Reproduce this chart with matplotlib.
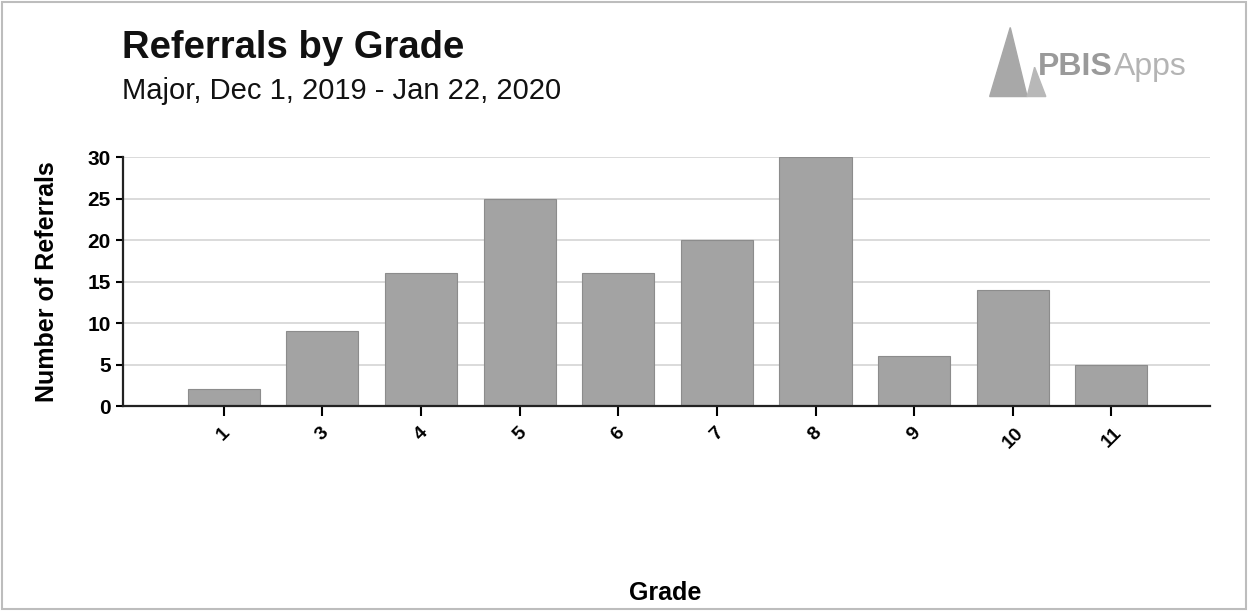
import matplotlib.pyplot as plt
from matplotlib.patches import Polygon, Rectangle

# Data
grades = ['1', '3', '4', '5', '6', '7', '8', '9', '10', '11']
referrals = [2, 9, 16, 25, 16, 20, 30, 6, 14, 5]
y_ticks = [0, 5, 10, 15, 20, 25, 30]

plt.rcParams['font.family'] = ['Liberation Sans', 'DejaVu Sans']

fig = plt.figure(figsize=(12.48, 6.11), dpi=100)
ax = fig.add_axes([0.0986, 0.3355, 0.8710, 0.4075])

x = list(range(len(grades)))
ax.bar(x, referrals, width=0.73, color='#a3a3a3', edgecolor='#8c8c8c',
       linewidth=0.8, zorder=2)

ax.set_xlim(-1.02, 10.0)
ax.set_ylim(0, 30)
ax.set_yticks(y_ticks)
ax.set_yticklabels([str(t) for t in y_ticks], fontsize=15, fontweight='bold')
ax.set_xticks(x)
ax.set_xticklabels(grades, rotation=45, fontsize=14, fontweight='bold',
                   ha='center', va='top')
ax.tick_params(axis='x', length=7, width=1.5, pad=6)
ax.tick_params(axis='y', length=5, width=1.5, pad=4)
ax.yaxis.grid(True, color='#d4d4d4', linewidth=1.2, zorder=0)
ax.set_axisbelow(True)
for s in ['top', 'right']:
    ax.spines[s].set_visible(False)
for s in ['left', 'bottom']:
    ax.spines[s].set_linewidth(1.6)
    ax.spines[s].set_color('#222222')

ax.set_ylabel('Number of Referrals', fontsize=18, fontweight='bold', labelpad=20)
fig.text(0.533, 0.018, 'Grade', fontsize=18, fontweight='bold', ha='center')

fig.text(0.098, 0.892, 'Referrals by Grade', fontsize=27.5, fontweight='bold',
         color='#111111', ha='left', va='bottom')
fig.text(0.098, 0.828, 'Major, Dec 1, 2019 - Jan 22, 2020', fontsize=21,
         color='#111111', ha='left', va='bottom')

# logo
fig.patches.append(Polygon([[0.793, 0.842], [0.823, 0.842], [0.8095, 0.955]],
                           closed=True, transform=fig.transFigure,
                           color='#a8a8a8'))
fig.patches.append(Polygon([[0.823, 0.842], [0.838, 0.842], [0.829, 0.89]],
                           closed=True, transform=fig.transFigure,
                           color='#b8b8b8'))
t1 = fig.text(0.832, 0.865, 'PBIS', fontsize=23, fontweight='bold',
              color='#9a9a9a', ha='left', va='bottom')
fig.canvas.draw()
bb = t1.get_window_extent().transformed(fig.transFigure.inverted())
fig.text(bb.x1 + 0.001, 0.865, 'Apps', fontsize=23, color='#b4b4b4',
         ha='left', va='bottom')

fig.patches.append(Rectangle((0.002, 0.004), 0.996, 0.992, fill=False,
                             edgecolor='#bdbdbd', linewidth=1.5,
                             transform=fig.transFigure))

fig.savefig('out.png', dpi=100)
